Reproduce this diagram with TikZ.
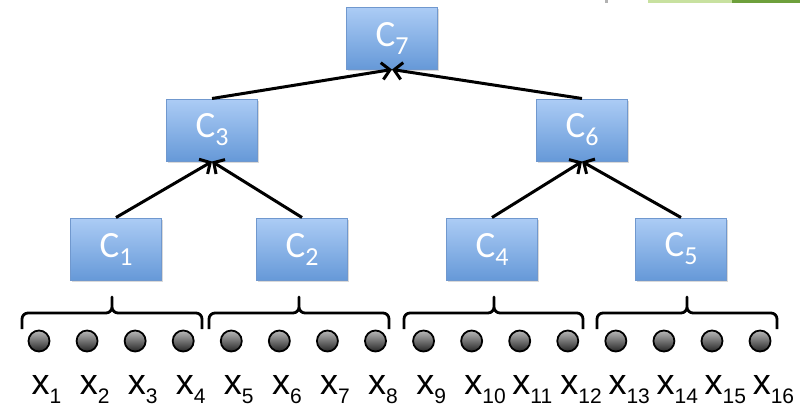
\documentclass[tikz,border=0pt]{standalone}
\usepackage{fontspec}
\usepackage{tikz}
\usetikzlibrary{arrows.meta, shadows}
\newfontfamily\cfont{Carlito}
\newfontfamily\xfont{Liberation Sans}
\definecolor{boxtop}{RGB}{172,204,245}
\definecolor{boxbot}{RGB}{102,153,216}
\definecolor{boxedge}{RGB}{112,152,206}
\definecolor{barlight}{RGB}{200,225,160}
\definecolor{bardark}{RGB}{110,160,60}
\newcommand{\clab}[1]{{\cfont\fontsize{37}{37}\selectfont C\raisebox{-8pt}{\fontsize{26}{26}\selectfont #1}}}
\newcommand{\xlab}[1]{{\xfont\fontsize{36}{36}\selectfont x\raisebox{-9pt}{\fontsize{21}{21}\selectfont #1}}}
% bracket over one group of four inputs
\newcommand{\grpbrace}[3]{%
	\draw [bracket] (#1,329) -- (#1,319) to [out=90, in=180] (#1+6,313) -- (#3-6,313)
		to [out=0, in=-90] (#3,307) -- (#3,297) -- (#3,307) to [out=-90, in=180] (#3+6,313)
		-- (#2-6,313) to [out=0, in=90] (#2,319) -- (#2,329);%
}
\tikzset{
	cbox/.style={rectangle, minimum width=91pt, minimum height=62pt, inner sep=0pt,
		top color=boxtop, bottom color=boxbot, draw=boxedge, line width=1pt, text=white,
		drop shadow={shadow xshift=1.5pt, shadow yshift=-1.5pt, opacity=.3}},
	up/.style={line width=3pt, -{Straight Barb[length=8pt, width=17pt, line width=3pt]}},
	bracket/.style={line width=2.8pt, line join=round},
	ball/.style={circle, minimum size=21pt, inner sep=0pt, draw=black, line width=1.8pt,
		top color=gray!55, bottom color=black!85},
}

\begin{document}
\begin{tikzpicture}[x=1pt, y=-1pt]
	\useasboundingbox (0,0) rectangle (800,408);

	% slide edge at the top right
	\fill [gray!60] (605,0) rectangle (608,3);
	\fill [barlight] (648,0) rectangle (732,3);
	\fill [bardark] (732,0) rectangle (800,3);

	\node [cbox] (c7) at (392,38) {\clab{7}};
	\node [cbox] (c3) at (212,130) {\clab{3}};
	\node [cbox] (c6) at (582,130) {\clab{6}};
	\node [cbox] (c1) at (116,249) {\clab{1}};
	\node [cbox] (c2) at (302,249) {\clab{2}};
	\node [cbox] (c4) at (492,249) {\clab{4}};
	\node [cbox] (c5) at (681,249) {\clab{5}};

	\draw [up] (c3.north) -- (c7.south);
	\draw [up] (c6.north) -- (c7.south);
	\draw [up] (c1.north) -- (c3.south);
	\draw [up] (c2.north) -- (c3.south);
	\draw [up] (c4.north) -- (c6.south);
	\draw [up] (c5.north) -- (c6.south);

	\grpbrace{22}{202}{112}
	\grpbrace{209}{389}{299}
	\grpbrace{404}{583}{494}
	\grpbrace{597}{777}{687}

	\foreach \i in {1,...,16} {
		\node [ball] (x\i) at ({39+(\i-1)*48.07},341) {};
		\node [anchor=base west, inner sep=0pt] (lx\i) at ({31.5+(\i-1)*48.07},394) {\xlab{\i}};
	}
\end{tikzpicture}
\end{document}
